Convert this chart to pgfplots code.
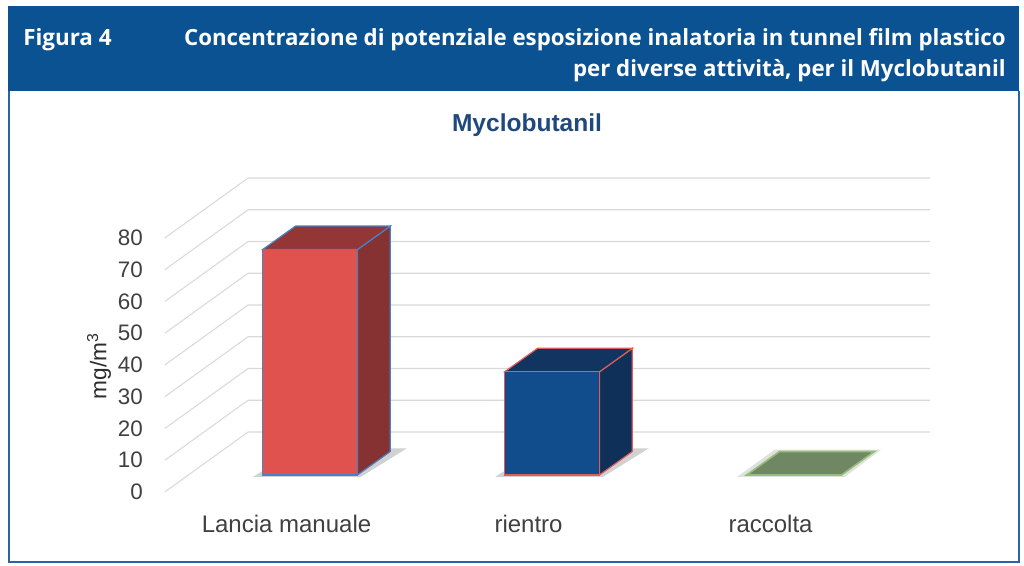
\documentclass[border=0pt]{standalone}
\usepackage{pgfplots}
\pgfplotsset{compat=1.18}
\usepackage{fontspec}
\setmainfont{Liberation Sans}
\newfontfamily\headfont{Open Sans}
\definecolor{headblue}{RGB}{10,82,145}
\definecolor{boxblue}{RGB}{40,100,170}
\definecolor{titleblue}{RGB}{31,73,125}
\definecolor{gridc}{RGB}{217,217,217}
\definecolor{txt}{RGB}{64,64,64}
\definecolor{redfront}{RGB}{224,82,78}
\definecolor{redside}{RGB}{135,50,50}
\definecolor{redtop}{RGB}{148,54,54}
\definecolor{edgeblue}{RGB}{70,130,200}
\definecolor{bluefront}{RGB}{17,77,140}
\definecolor{blueside}{RGB}{15,48,88}
\definecolor{bluetop}{RGB}{17,53,96}
\definecolor{edgepink}{RGB}{222,92,92}
\definecolor{greenfill}{RGB}{112,135,100}
\definecolor{greenedge}{RGB}{150,190,120}
\begin{document}
\begin{tikzpicture}
\begin{scope}[x=0.75pt,y=0.75pt]
\useasboundingbox (0,0) rectangle (1024,565);
% header
\fill[headblue] (8,559) rectangle (1019,474);
\draw[boxblue,line width=1.1pt] (9,474) -- (9,3) -- (1019,3) -- (1019,474);
\node[anchor=base west,inner sep=0pt,text=white,font=\headfont\bfseries\fontsize{16.8}{18}\selectfont] at (23,519) {Figura 4};
\node[anchor=base east,inner sep=0pt,text=white,font=\headfont\bfseries\fontsize{16.7}{18}\selectfont] at (1006,519) {Concentrazione di potenziale esposizione inalatoria in tunnel film plastico};
\node[anchor=base east,inner sep=0pt,text=white,font=\headfont\bfseries\fontsize{16.7}{18}\selectfont] at (1006,488) {per diverse attività, per il Myclobutanil};
% chart title
\node[anchor=base,inner sep=0pt,text=titleblue,font=\bfseries\fontsize{18.4}{20}\selectfont] at (527,433) {Myclobutanil};
% y label
\node[rotate=90,inner sep=0pt,text=txt!70!black,font=\fontsize{17}{18}\selectfont] at (99,199) {mg/m\textsuperscript{3}};
\end{scope}
\begin{axis}[
  at={(123.6pt,53.21pt)}, anchor=south west,
  scale only axis, width=580.8pt, height=252.41pt,
  xmin=-0.6, xmax=2.6, ymin=-6, ymax=100,
  clip=false,
  axis line style={draw=none},
  tick style={draw=none},
  ytick={-5.35,4.65,14.65,24.65,34.65,44.65,54.65,64.65,74.65},
  yticklabels={0,10,20,30,40,50,60,70,80},
  xtick={-0.097,0.903,1.903},
  xticklabels={Lancia manuale,rientro,raccolta},
  yticklabel style={anchor=east,inner sep=0pt,xshift=-16.3pt,text=txt,font=\fontsize{16.8}{18}\selectfont},
  xticklabel style={anchor=base,inner sep=0pt,yshift=-28.5pt,text=txt,font=\fontsize{18}{20}\selectfont},
]
% back wall / floor gridlines
\addplot[gridc,line width=0.8pt] coordinates {(-0.6,-5.35) (-0.256,13.54) (2.562,13.54)};
\addplot[gridc,line width=0.8pt] coordinates {(-0.6,4.65) (-0.256,23.54) (2.562,23.54)};
\addplot[gridc,line width=0.8pt] coordinates {(-0.6,14.65) (-0.256,33.54) (2.562,33.54)};
\addplot[gridc,line width=0.8pt] coordinates {(-0.6,24.65) (-0.256,43.54) (2.562,43.54)};
\addplot[gridc,line width=0.8pt] coordinates {(-0.6,34.65) (-0.256,53.54) (2.562,53.54)};
\addplot[gridc,line width=0.8pt] coordinates {(-0.6,44.65) (-0.256,63.54) (2.562,63.54)};
\addplot[gridc,line width=0.8pt] coordinates {(-0.6,54.65) (-0.256,73.54) (2.562,73.54)};
\addplot[gridc,line width=0.8pt] coordinates {(-0.6,64.65) (-0.256,83.54) (2.562,83.54)};
\addplot[gridc,line width=0.8pt] coordinates {(-0.6,74.65) (-0.256,93.54) (2.562,93.54)};
% floor shadows
\addplot[fill=black,fill opacity=0.18,draw=none] coordinates {(-0.235,-0.6) (0.21,-0.6) (0.40,8.4) (-0.05,8.4)} -- cycle;
\addplot[fill=black,fill opacity=0.18,draw=none] coordinates {(0.765,-0.6) (1.21,-0.6) (1.40,8.4) (0.95,8.4)} -- cycle;
\addplot[fill=black,fill opacity=0.12,draw=none] coordinates {(1.765,-0.6) (2.21,-0.6) (2.36,8.0) (1.92,8.0)} -- cycle;
% Lancia manuale = 71
\addplot[fill=redside,draw=edgeblue,line width=0.9pt] coordinates {(0.196,0) (0.196,71) (0.332,78.4) (0.332,7.4)} -- cycle;
\addplot[fill=redtop,draw=edgeblue,line width=0.9pt] coordinates {(-0.196,71) (0.196,71) (0.332,78.4) (-0.06,78.4)} -- cycle;
\addplot[ybar,bar width=0.392,bar shift=0pt,fill=redfront,draw=edgeblue,line width=0.9pt] coordinates {(0,71)};
% rientro = 32.5
\addplot[fill=blueside,draw=edgepink,line width=0.9pt] coordinates {(1.196,0) (1.196,32.5) (1.332,39.9) (1.332,7.4)} -- cycle;
\addplot[fill=bluetop,draw=edgepink,line width=0.9pt] coordinates {(0.804,32.5) (1.196,32.5) (1.332,39.9) (0.94,39.9)} -- cycle;
\addplot[ybar,bar width=0.392,bar shift=0pt,fill=bluefront,draw=edgepink,line width=0.9pt] coordinates {(1,32.5)};
% raccolta = 0
\addplot[fill=greenfill,draw=greenedge,line width=1.2pt] coordinates {(1.804,0) (2.196,0) (2.332,7.4) (1.94,7.4)} -- cycle;
\end{axis}
\end{tikzpicture}
\end{document}
